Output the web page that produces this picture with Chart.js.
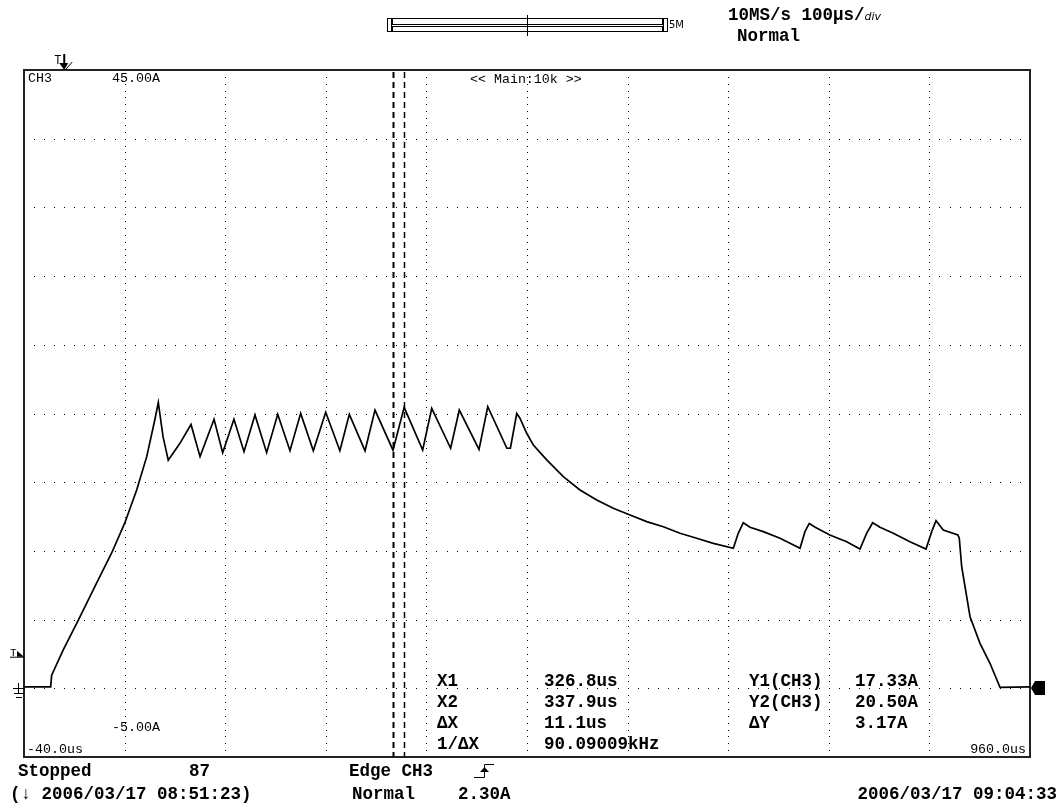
<!DOCTYPE html>
<html>
<head>
<meta charset="utf-8">
<title>CH3 current</title>
<script src="https://cdn.jsdelivr.net/npm/chart.js@4.4.1/dist/chart.umd.min.js"></script>
<style>
  body { margin: 0; background: #fff; }
  canvas { display: block; }
</style>
</head>
<body>
<canvas id="scope" width="1063" height="807"></canvas>
<script>
// CH3 trace: time in us, current in A
const timeUs = [
  -40, -13.5, -12.5, -1, 14, 32, 47, 60, 72, 82, 90, 93.5, 98.2,
  103.4, 115, 126, 135, 148.9, 157.5, 168.7, 178.7, 189.6, 201.2, 212.2, 224.4,
  235, 247.6, 259.9, 274, 283.4, 299, 308.9, 326.8, 337.9, 356.3, 365.3, 384.1,
  392.7, 412.3, 421, 440, 443.5, 449.8,
  453, 459.7, 466.3, 479.6, 496.1, 512.7, 529.3, 545.8, 562.4, 579, 595.5, 612.1,
  628.7, 645.2, 665.1, 670, 675, 681.7, 694.9, 711.5, 731.4, 736.3, 740.6, 746.5,
  761, 777.8, 791, 797.6, 803.6, 810.9, 824.1, 840.7, 856.6, 862.3, 866.6, 873.8,
  888.3, 889.7, 892.1, 900.4, 910.3, 920.2, 930.2, 960
];
const currentA = [
  0.1, 0.1, 0.95, 2.8, 4.97, 7.64, 9.83, 12.0, 14.43, 16.86, 19.53, 20.8, 18.31,
  16.6, 17.83, 19.2, 16.86, 19.58, 17.15, 19.58, 17.22, 19.89, 17.15, 19.94, 17.29,
  20.01, 17.29, 20.09, 17.29, 19.94, 17.29, 20.25, 17.33, 20.45, 17.34, 20.38, 17.47,
  20.25, 17.39, 20.5, 17.47, 17.47, 20.0,
  19.66, 18.56, 17.7, 16.62, 15.4, 14.43, 13.7, 13.1, 12.61, 12.13, 11.76, 11.28,
  10.92, 10.55, 10.19, 11.28, 12.05, 11.72, 11.4, 10.92, 10.19, 11.4, 12.0, 11.72,
  11.16, 10.67, 10.14, 11.28, 12.05, 11.72, 11.28, 10.67, 10.14, 11.4, 12.2, 11.52,
  11.16, 10.92, 8.85, 5.21, 3.27, 1.82, 0.07, 0.1
];

// screen settings
const xMin = -40, xMax = 960, xDiv = 100;
const yMin = -5, yMax = 45, yDiv = 5;
const triggerTime = 0;
const triggerLevel = 2.30;
const cursorX = [326.8, 337.9];

// labels on the screen
const xTickLabels = ['-40.0us', '960.0us'];
const yTickLabels = ['45.00A', '-5.00A'];
const cursorLabels = ['X1', 'X2', 'ΔX', '1/ΔX'];
const cursorValues = ['326.8us', '337.9us', '11.1us', '90.09009kHz'];
const yCursorLabels = ['Y1(CH3)', 'Y2(CH3)', 'ΔY'];
const yCursorValues = ['17.33A', '20.50A', '3.17A'];

const points = timeUs.map((t, i) => ({ x: t, y: currentA[i] }));

const bigFont = 'bold 17.5px "Liberation Mono", "DejaVu Sans Mono", monospace';
const smallFont = '13.3px "Liberation Mono", "DejaVu Sans Mono", monospace';

function text(ctx, str, x, y, font, align) {
  ctx.font = font;
  ctx.textAlign = align || 'left';
  ctx.textBaseline = 'alphabetic';
  ctx.fillStyle = '#000';
  ctx.fillText(str, x, y);
}

// dotted grid + frame, behind the trace
const gridPlugin = {
  id: 'scopeGrid',
  beforeDatasetsDraw(chart) {
    const ctx = chart.ctx;
    const xs = chart.scales.x, ys = chart.scales.y;
    const a = chart.chartArea;
    ctx.save();
    ctx.fillStyle = '#000';
    // vertical dotted lines
    for (let v = xMin + xDiv; v < xMax; v += xDiv) {
      const px = Math.round(xs.getPixelForValue(v));
      for (let w = yMin; w <= yMax; w += yDiv / 10) {
        ctx.fillRect(px, Math.round(ys.getPixelForValue(w)), 1, 1);
      }
    }
    // horizontal dotted lines
    for (let w = yMin + yDiv; w < yMax; w += yDiv) {
      const py = Math.round(ys.getPixelForValue(w));
      for (let v = xMin; v <= xMax; v += xDiv / 10) {
        ctx.fillRect(Math.round(xs.getPixelForValue(v)), py, 1, 1);
      }
    }
    ctx.strokeStyle = '#222';
    ctx.lineWidth = 2;
    ctx.strokeRect(a.left, a.top, a.right - a.left, a.bottom - a.top);
    ctx.restore();
  }
};

// cursors, markers and all the readout text
const overlayPlugin = {
  id: 'scopeOverlay',
  afterDraw(chart) {
    const ctx = chart.ctx;
    const xs = chart.scales.x, ys = chart.scales.y;
    const a = chart.chartArea;
    ctx.save();

    // dashed cursor lines
    ctx.strokeStyle = '#000';
    cursorX.forEach((c, i) => {
      const px = Math.round(xs.getPixelForValue(c)) + 0.5;
      ctx.lineWidth = i == 0 ? 2 : 1.5;
      ctx.setLineDash([6, 4]);
      ctx.beginPath();
      ctx.moveTo(px, a.top + 2);
      ctx.lineTo(px, a.bottom);
      ctx.stroke();
    });
    ctx.setLineDash([]);

    // labels inside the frame
    text(ctx, 'CH3', a.left + 4, a.top + 12, smallFont);
    text(ctx, yTickLabels[0], a.left + 88, a.top + 12, smallFont);
    text(ctx, '<< Main:10k >>', 470, a.top + 13, smallFont);
    text(ctx, yTickLabels[1], a.left + 88, a.bottom - 26, smallFont);
    text(ctx, xTickLabels[0], a.left + 3, a.bottom - 4, smallFont);
    text(ctx, xTickLabels[1], a.right - 4, a.bottom - 4, smallFont, 'right');

    // cursor readout
    cursorLabels.forEach((s, i) => {
      const y = 686 + i * 21;
      text(ctx, s, 437, y, bigFont);
      text(ctx, cursorValues[i], 544, y, bigFont);
    });
    yCursorLabels.forEach((s, i) => {
      const y = 686 + i * 21;
      text(ctx, s, 749, y, bigFont);
      text(ctx, yCursorValues[i], 855, y, bigFont);
    });

    // trigger position marker on top
    const tx = xs.getPixelForValue(triggerTime);
    text(ctx, 'T', tx - 10, a.top - 6, '12px "Liberation Mono", monospace');
    ctx.fillStyle = '#000';
    ctx.fillRect(tx - 1, a.top - 16, 2, 10);
    ctx.beginPath();
    ctx.moveTo(tx - 5, a.top - 7);
    ctx.lineTo(tx + 4, a.top - 7);
    ctx.lineTo(tx, a.top);
    ctx.closePath();
    ctx.fill();
    ctx.lineWidth = 1;
    ctx.beginPath();
    ctx.moveTo(tx + 1, a.top);
    ctx.lineTo(tx + 8, a.top - 8);
    ctx.stroke();

    // trigger level marker on the left
    const ty = ys.getPixelForValue(triggerLevel);
    text(ctx, 'T', a.left - 14, ty - 1, '11px "Liberation Mono", monospace');
    ctx.fillRect(a.left - 14, ty, 14, 1);
    ctx.beginPath();
    ctx.moveTo(a.left - 7, ty - 6);
    ctx.lineTo(a.left, ty);
    ctx.lineTo(a.left - 7, ty);
    ctx.closePath();
    ctx.fill();

    // ground symbol
    const gy = Math.round(ys.getPixelForValue(0));
    ctx.fillRect(a.left - 11, gy, 12, 1);
    ctx.fillRect(a.left - 6, gy - 5, 1, 10);
    ctx.fillRect(a.left - 10, gy + 5, 10, 1);
    ctx.fillRect(a.left - 8, gy + 9, 6, 1);

    // ground marker on the right
    ctx.beginPath();
    ctx.moveTo(a.right + 1, gy);
    ctx.lineTo(a.right + 5, gy - 7);
    ctx.lineTo(a.right + 15, gy - 7);
    ctx.lineTo(a.right + 15, gy + 7);
    ctx.lineTo(a.right + 5, gy + 7);
    ctx.closePath();
    ctx.fill();

    // record length bar on top
    ctx.strokeStyle = '#000';
    ctx.lineWidth = 1;
    ctx.strokeRect(387.5, 18.5, 4, 13);
    ctx.strokeRect(392.5, 18.5, 270, 6);
    ctx.strokeRect(392.5, 26.5, 270, 5);
    ctx.strokeRect(663.5, 18.5, 4, 13);
    ctx.fillRect(527, 15, 1, 21);
    text(ctx, '5M', 669, 28, '10px "DejaVu Sans", sans-serif');

    // status text
    text(ctx, '10MS/s 100μs/', 728, 20, bigFont);
    ctx.font = bigFont;
    const w = ctx.measureText('10MS/s 100μs/').width;
    text(ctx, 'div', 728 + w, 20, 'italic 11px "DejaVu Sans", sans-serif');
    text(ctx, 'Normal', 737, 41, bigFont);

    text(ctx, 'Stopped', 18, 776, bigFont);
    text(ctx, '87', 189, 776, bigFont);
    text(ctx, '(↓ 2006/03/17 08:51:23)', 10, 799, bigFont);
    text(ctx, 'Edge CH3', 349, 776, bigFont);
    text(ctx, 'Normal', 352, 799, bigFont);
    text(ctx, '2.30A', 458, 799, bigFont);
    text(ctx, '2006/03/17 09:04:33', 1057, 799, bigFont, 'right');

    // rising edge symbol
    ctx.beginPath();
    ctx.moveTo(474, 777.5);
    ctx.lineTo(484.5, 777.5);
    ctx.lineTo(484.5, 764.5);
    ctx.lineTo(494, 764.5);
    ctx.stroke();
    ctx.beginPath();
    ctx.moveTo(480, 772);
    ctx.lineTo(489, 772);
    ctx.lineTo(484.5, 767);
    ctx.closePath();
    ctx.fill();

    ctx.restore();
  }
};

const ctx = document.getElementById('scope').getContext('2d');
const scopeChart = new Chart(ctx, {
  type: 'line',
  data: {
    datasets: [{
      data: points,
      borderColor: '#000',
      borderWidth: 1.7,
      pointRadius: 0,
      tension: 0,
      fill: false
    }]
  },
  options: {
    responsive: false,
    animation: false,
    devicePixelRatio: 1,
    layout: { padding: { left: 24, right: 33, top: 70, bottom: 50 } },
    scales: {
      x: { type: 'linear', min: xMin, max: xMax, display: false },
      y: { type: 'linear', min: yMin, max: yMax, display: false }
    },
    plugins: {
      legend: { display: false },
      tooltip: { enabled: false }
    }
  },
  plugins: [gridPlugin, overlayPlugin]
});
</script>
</body>
</html>
